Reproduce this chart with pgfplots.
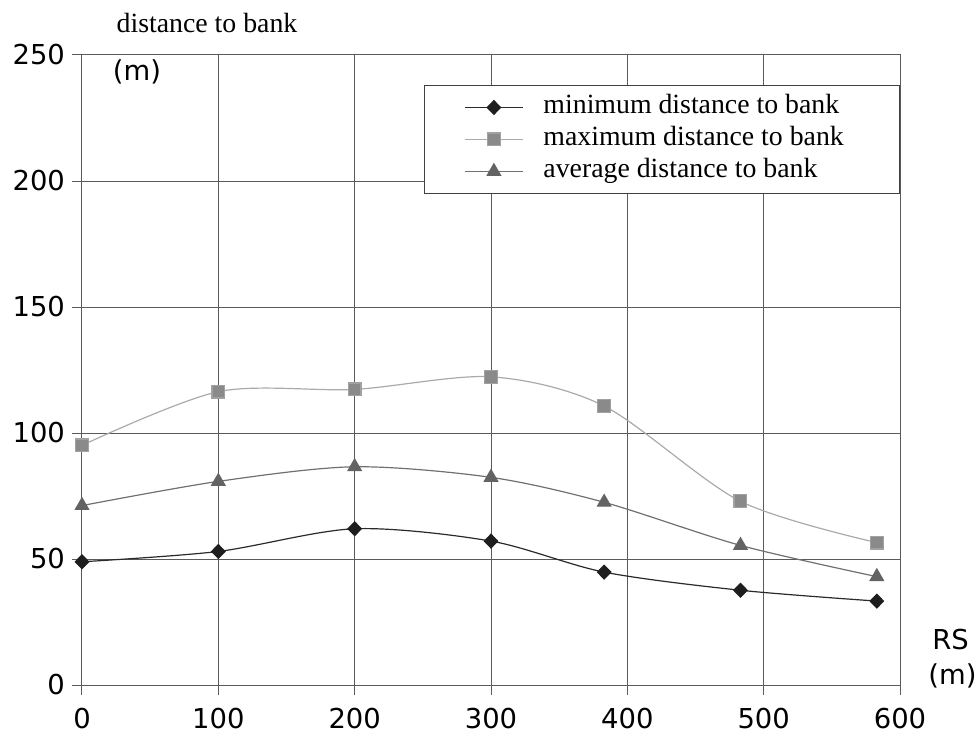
\documentclass[border=0pt]{standalone}
\usepackage{pgfplots}
\pgfplotsset{compat=1.18}
\usepackage{fontspec}
\setmainfont{Liberation Serif}
\setsansfont{DejaVu Sans}
\definecolor{minc}{HTML}{1E1E1E}
\definecolor{minl}{HTML}{2A2A2A}
\definecolor{maxc}{HTML}{8A8A8A}
\definecolor{maxl}{HTML}{AAAAAA}
\definecolor{avgc}{HTML}{636363}
\definecolor{avgl}{HTML}{707070}
\definecolor{gridc}{HTML}{5A5A5A}
\newcommand{\serifsize}{\fontsize{13.9}{16}\selectfont}
\newcommand{\sanssize}{\sffamily\fontsize{13.7}{16}\selectfont}
\begin{document}
\begin{tikzpicture}
\begin{axis}[name=ax, scale only axis, width=409pt, height=315pt,
  xmin=0, xmax=600, ymin=0, ymax=250,
  xtick={0,100,...,600}, ytick={0,50,...,250},
  grid=major, major grid style={draw=gridc, line width=0.5pt},
  axis line style={draw=gridc, line width=0.5pt},
  tick align=outside, major tick length=5pt,
  tick style={draw=gridc, line width=0.5pt},
  xtick pos=lower, ytick pos=left,
  ticklabel style={font=\sanssize},
  xticklabel style={yshift=-3pt},
  /pgf/number format/assume math mode=true,
  /pgf/number format/1000 sep={},
  clip=false,
  legend cell align=left,
  legend image code/.code={\draw[mark repeat=2,mark phase=2,#1] plot coordinates {(0pt,0pt) (14.5pt,0pt) (29pt,0pt)};},
  legend style={at={(1,0.9524)}, anchor=north east, draw=black!75, line width=0.5pt,
    inner xsep=20pt, inner ysep=3pt, column sep=9pt, row sep=0pt,
    font=\serifsize,
    nodes={inner sep=1pt, text height=10pt, text depth=4pt}},
]
\addplot[smooth, color=minl, line width=0.6pt, mark=diamond*, mark size=3.4pt, mark options={fill=minc, draw=minc, xscale=1.3}]
  coordinates {(0,48.9)(100,53.0)(200,62.0)(300,57.1)(383,44.8)(483,37.6)(583,33.3)};
\addlegendentry{\makebox[157pt][l]{minimum distance to bank}}
\addplot[smooth, color=maxl, line width=0.6pt, mark=square*, mark size=3.2pt, mark options={fill=maxc, draw=maxc!80!white}]
  coordinates {(0,95.1)(100,116.4)(200,117.3)(300,122.3)(383,110.7)(483,72.9)(583,56.5)};
\addlegendentry{\makebox[157pt][l]{maximum distance to bank}}
\addplot[smooth, color=avgl, line width=0.6pt, mark=triangle*, mark size=3.8pt, mark options={fill=avgc, draw=avgc}]
  coordinates {(0,71.2)(100,80.8)(200,86.6)(300,82.4)(383,72.5)(483,55.4)(583,43.0)};
\addlegendentry{\makebox[157pt][l]{average distance to bank}}
\end{axis}
\node[font=\serifsize] at ([shift={(62.5pt,16pt)}]ax.north west) {distance to bank};
\node[font=\sanssize] at ([shift={(27.5pt,-8.5pt)}]ax.north west) {(m)};
\node[font=\sanssize, anchor=west, inner sep=0pt] at ([shift={(16pt,22.5pt)}]ax.south east) {RS};
\node[font=\sanssize, anchor=west, inner sep=0pt] at ([shift={(14pt,4.5pt)}]ax.south east) {(m)};
\pgfresetboundingbox
\path ([shift={(-41pt,-27pt)}]ax.south west) rectangle ([shift={(38.5pt,27.5pt)}]ax.north east);
\end{tikzpicture}
\end{document}
